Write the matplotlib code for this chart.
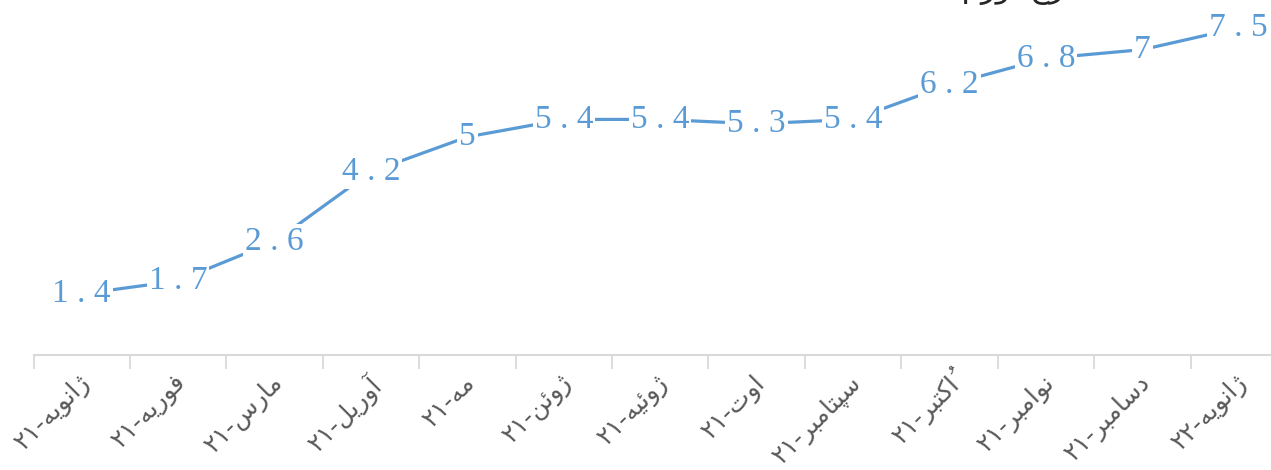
import numpy as np
import matplotlib
matplotlib.use("Agg")
import matplotlib.pyplot as plt
from matplotlib.transforms import ScaledTranslation

# داده ها
months = ['ژانویه-۲۱', 'فوریه-۲۱', 'مارس-۲۱', 'آوریل-۲۱', 'مه-۲۱', 'ژوئن-۲۱',
          'ژوئیه-۲۱', 'اوت-۲۱', 'سپتامبر-۲۱', 'اُکتبر-۲۱', 'نوامبر-۲۱',
          'دسامبر-۲۱', 'ژانویه-۲۲']
values = [1.4, 1.7, 2.6, 4.2, 5, 5.4, 5.4, 5.3, 5.4, 6.2, 6.8, 7, 7.5]
title = 'نرخ تورم'

# formas de presentacion (aislada, final, inicial, medial)
FORMS = {
    'ا': ('\uFE8D', '\uFE8E', None, None),
    'آ': ('\uFE81', '\uFE82', None, None),
    'د': ('\uFEA9', '\uFEAA', None, None),
    'ر': ('\uFEAD', '\uFEAE', None, None),
    'و': ('\uFEED', '\uFEEE', None, None),
    'ژ': ('\uFB8A', '\uFB8B', None, None),
    'ب': ('\uFE8F', '\uFE90', '\uFE91', '\uFE92'),
    'ت': ('\uFE95', '\uFE96', '\uFE97', '\uFE98'),
    'خ': ('\uFEA5', '\uFEA6', '\uFEA7', '\uFEA8'),
    'س': ('\uFEB1', '\uFEB2', '\uFEB3', '\uFEB4'),
    'ف': ('\uFED1', '\uFED2', '\uFED3', '\uFED4'),
    'ل': ('\uFEDD', '\uFEDE', '\uFEDF', '\uFEE0'),
    'م': ('\uFEE1', '\uFEE2', '\uFEE3', '\uFEE4'),
    'ن': ('\uFEE5', '\uFEE6', '\uFEE7', '\uFEE8'),
    'ه': ('\uFEE9', '\uFEEA', '\uFEEB', '\uFEEC'),
    'ئ': ('\uFE89', '\uFE8A', '\uFE8B', '\uFE8C'),
    'ی': ('\uFBFC', '\uFBFD', '\uFBFE', '\uFBFF'),
    'پ': ('\uFB56', '\uFB57', '\uFB58', '\uFB59'),
    'ک': ('\uFB8E', '\uFB8F', '\uFB90', '\uFB91'),
}
MARKS = '\u064F'


def shape_word(word):
    # une las letras y devuelve el orden visual (de izquierda a derecha)
    letters = [c for c in word if c not in MARKS]
    clusters = []
    for c in word:
        if c in MARKS and clusters:
            clusters[-1] += c
        else:
            clusters.append(c)
    out = []
    for i, cl in enumerate(clusters):
        c = cl[0]
        if c not in FORMS:
            out.append(cl)
            continue
        prev = letters[i - 1] if i > 0 else None
        nxt = letters[i + 1] if i + 1 < len(letters) else None
        pj = prev is not None and prev in FORMS and FORMS[prev][2] is not None
        nj = nxt is not None and nxt in FORMS and FORMS[c][2] is not None
        f = FORMS[c]
        if pj and nj:
            g = f[3]
        elif pj:
            g = f[1]
        elif nj:
            g = f[2]
        else:
            g = f[0]
        out.append(g + cl[1:])
    return ''.join(out[::-1])


def visual(label):
    word, num = label.split('-')
    return num + '-' + shape_word(word)


def visual_phrase(s):
    return ' '.join(shape_word(w) for w in s.split(' ')[::-1])


fig = plt.figure(figsize=(12.71, 4.70), dpi=100)
W, H = 1271, 470
x0, x1 = 33.5, 1287
y0, y1 = 355, 6
ax = fig.add_axes([x0 / W, 1 - y0 / H, (x1 - x0) / W, (y0 - y1) / H])

x = np.arange(len(values))
ax.plot(x, values, color='#5B9BD5', linewidth=2.3, solid_capstyle='round')

for xi, v in zip(x, values):
    txt = ' . '.join(str(v).split('.'))
    ax.text(xi, v, txt, ha='center', va='center', fontsize=24,
            family='Liberation Serif', color='#5B9BD5',
            bbox=dict(facecolor='white', edgecolor='none', pad=1.5))

ax.set_xlim(-0.5, len(values) - 0.5)
ax.set_ylim(0, 8)
for s in ['top', 'right', 'left']:
    ax.spines[s].set_visible(False)
ax.spines['bottom'].set_color('#d9d9d9')
ax.spines['bottom'].set_linewidth(1.5)
ax.set_yticks([])

ax.set_xticks(np.arange(len(values) + 1) - 0.5, minor=True)
ax.tick_params(axis='x', which='minor', length=10, width=1.3, color='#d9d9d9')
ax.set_xticks(x)
ax.set_xticklabels([visual(m) for m in months], rotation=45, ha='right',
                   va='top', rotation_mode='anchor', fontsize=18,
                   family='DejaVu Sans', color='#595959')
ax.tick_params(axis='x', which='major', length=0, pad=11)
for lbl in ax.get_xticklabels():
    lbl.set_transform(lbl.get_transform() + ScaledTranslation(-0.04, 0, fig.dpi_scale_trans))

fig.text(1018 / W, 1 - 5 / H, visual_phrase(title), ha='center', va='bottom',
         fontsize=22, family='DejaVu Sans', color='#262626')

fig.savefig('out.png', dpi=100)
